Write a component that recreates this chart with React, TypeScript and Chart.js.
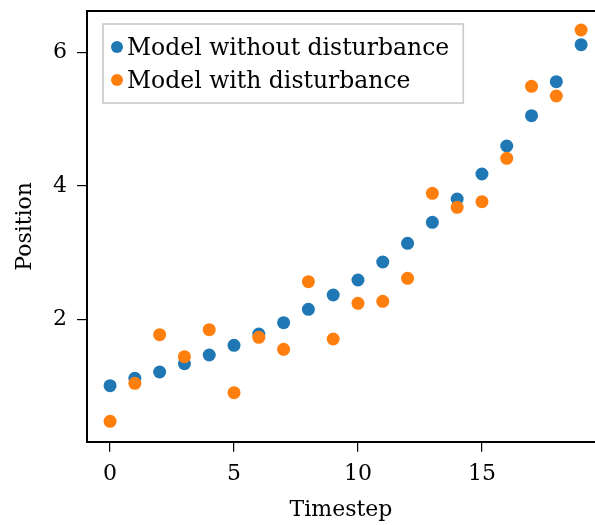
import React, { useEffect, useRef } from "react";
import { Chart, registerables } from "chart.js";

Chart.register(...registerables);

const timesteps = [0, 1, 2, 3, 4, 5, 6, 7, 8, 9, 10, 11, 12, 13, 14, 15, 16, 17, 18, 19];
const withoutDisturbance = [1.005, 1.115, 1.21, 1.335, 1.465, 1.61, 1.78, 1.95, 2.15, 2.365, 2.59, 2.86, 3.14, 3.455, 3.805, 4.18, 4.6, 5.055, 5.565, 6.12];
const withDisturbance = [0.47, 1.04, 1.77, 1.44, 1.845, 0.9, 1.73, 1.55, 2.565, 1.705, 2.24, 2.27, 2.615, 3.89, 3.68, 3.765, 4.415, 5.495, 5.35, 6.34];
const xTicks = [0, 5, 10, 15];
const yTicks = [2, 4, 6];
const seriesLabels = ["Model without disturbance", "Model with disturbance"];
const seriesColors = ["#1f77b4", "#ff7f0e"];

const FONT = "'DejaVu Serif', serif";

const framePlugin = {
  id: "frameTop",
  afterDraw(chart: any) {
    const { ctx, chartArea } = chart;
    ctx.save();
    ctx.strokeStyle = "#000";
    ctx.lineWidth = 2;
    ctx.beginPath();
    ctx.moveTo(chartArea.left - 1, chartArea.top);
    ctx.lineTo(chartArea.right + 2, chartArea.top);
    ctx.stroke();
    ctx.restore();
  },
};

const legendPlugin = {
  id: "innerLegend",
  afterDraw(chart: any) {
    const { ctx } = chart;
    const ds = chart.data.datasets;
    const left = 103;
    const top = 24;
    const rowH = 33;
    const markerX = 117;
    const textX = 127;
    ctx.save();
    ctx.font = `23.5px ${FONT}`;
    let maxW = 0;
    ds.forEach((d: any) => {
      maxW = Math.max(maxW, ctx.measureText(d.label).width);
    });
    const width = textX + maxW + 14 - left;
    const height = rowH * ds.length + 13;
    ctx.fillStyle = "rgba(255,255,255,0.85)";
    ctx.fillRect(left, top, width, height);
    ctx.strokeStyle = "#cccccc";
    ctx.lineWidth = 1.7;
    ctx.strokeRect(left, top, width, height);
    ds.forEach((d: any, i: number) => {
      const cy = top + 23 + i * rowH;
      ctx.beginPath();
      ctx.arc(markerX, cy, 6, 0, Math.PI * 2);
      ctx.fillStyle = d.backgroundColor;
      ctx.fill();
      ctx.fillStyle = "#000";
      ctx.textBaseline = "alphabetic";
      ctx.textAlign = "left";
      ctx.fillText(d.label, textX, cy + 8);
    });
    ctx.restore();
  },
};

export default function App() {
  const ref = useRef<HTMLCanvasElement>(null);
  useEffect(() => {
    document.body.style.margin = "0";
    const canvas = ref.current!;
    const chart = new Chart(canvas, {
      type: "scatter",
      data: {
        datasets: [
          {
            label: seriesLabels[0],
            data: timesteps.map((t, i) => ({ x: t, y: withoutDisturbance[i] })),
            backgroundColor: seriesColors[0],
            borderWidth: 0,
            pointRadius: 6.5,
            order: 1,
          },
          {
            label: seriesLabels[1],
            data: timesteps.map((t, i) => ({ x: t, y: withDisturbance[i] })),
            backgroundColor: seriesColors[1],
            borderWidth: 0,
            pointRadius: 6.5,
            order: 0,
          },
        ],
      },
      options: {
        responsive: false,
        animation: false,
        devicePixelRatio: 1,
        layout: { autoPadding: false, padding: { top: 11, left: 0, right: 0, bottom: 0 } },
        plugins: { legend: { display: false }, tooltip: { enabled: false } },
        scales: {
          x: {
            type: "linear",
            min: -0.93,
            max: 19.56,
            afterFit: (s: any) => {
              s.height = 83.3;
              s.paddingLeft = 0;
              s.paddingRight = 0;
            },
            afterBuildTicks: (s: any) => {
              s.ticks = xTicks.map((v) => ({ value: v }));
            },
            grid: { drawOnChartArea: false, drawTicks: true, tickLength: 10, color: "#000", lineWidth: 1.2 },
            border: { display: true, color: "#000", width: 2 },
            ticks: { color: "#000", font: { family: FONT, size: 22 }, padding: 9, maxRotation: 0 },
            title: { display: true, text: "Timestep", color: "#000", font: { family: FONT, size: 22 }, padding: { top: 0, bottom: 2 } },
          },
          y: {
            type: "linear",
            min: 0.165,
            max: 6.625,
            afterFit: (s: any) => {
              s.width = 87;
              s.paddingTop = 0;
              s.paddingBottom = 0;
            },
            afterBuildTicks: (s: any) => {
              s.ticks = yTicks.map((v) => ({ value: v }));
            },
            grid: { drawOnChartArea: false, drawTicks: true, tickLength: 10, color: "#000", lineWidth: 1.2 },
            border: { display: true, color: "#000", width: 2 },
            ticks: { color: "#000", font: { family: FONT, size: 22 }, padding: 10 },
            title: { display: true, text: "Position", color: "#000", font: { family: FONT, size: 22 }, padding: { top: 12, bottom: 0 } },
          },
        },
      },
      plugins: [framePlugin, legendPlugin],
    });
    return () => chart.destroy();
  }, []);
  return <canvas ref={ref} width={595} height={525} style={{ display: "block", width: 595, height: 525 }} />;
}
